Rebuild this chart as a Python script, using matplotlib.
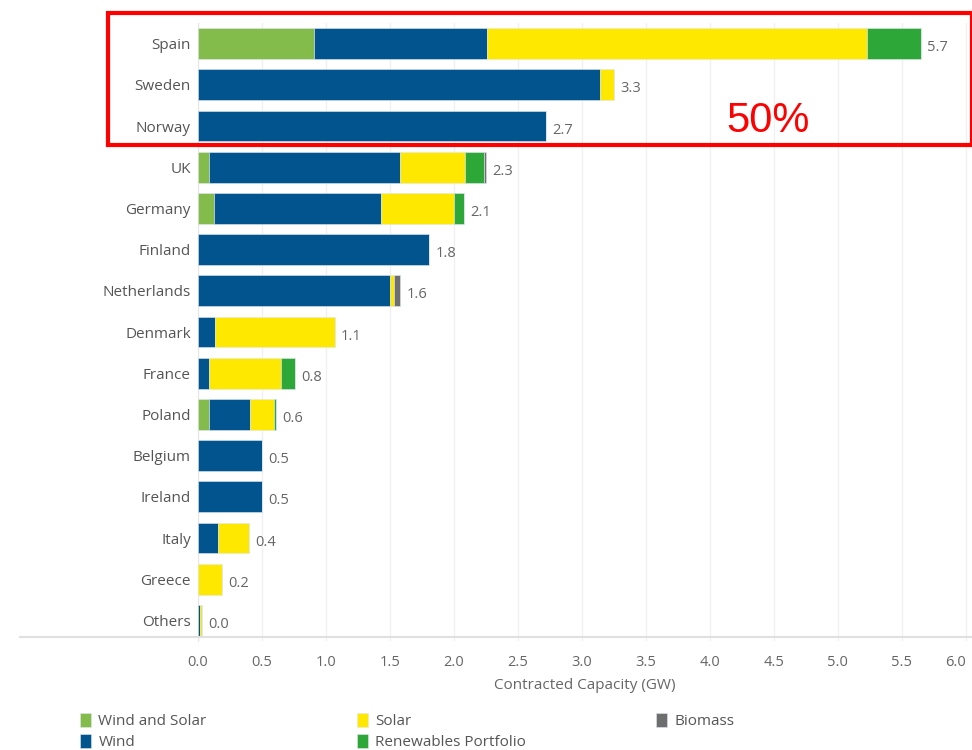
import matplotlib.pyplot as plt
from matplotlib.patches import Rectangle
from matplotlib.lines import Line2D
import numpy as np

countries = ["Spain", "Sweden", "Norway", "UK", "Germany", "Finland", "Netherlands",
             "Denmark", "France", "Poland", "Belgium", "Ireland", "Italy", "Greece", "Others"]
wind_solar = [0.91, 0, 0, 0.09, 0.13, 0, 0, 0, 0, 0.09, 0, 0, 0, 0, 0]
wind = [1.35, 3.14, 2.72, 1.49, 1.30, 1.81, 1.50, 0.135, 0.086, 0.32, 0.505, 0.50, 0.16, 0, 0.015]
solar = [2.97, 0.11, 0, 0.51, 0.57, 0, 0.03, 0.935, 0.564, 0.19, 0, 0, 0.24, 0.19, 0.015]
renew_portfolio = [0.42, 0, 0, 0.15, 0.08, 0, 0, 0, 0.11, 0.01, 0, 0, 0, 0, 0]
biomass = [0, 0, 0, 0.01, 0, 0, 0.05, 0, 0, 0, 0, 0, 0, 0, 0]
total_labels = ["5.7", "3.3", "2.7", "2.3", "2.1", "1.8", "1.6", "1.1", "0.8", "0.6",
                "0.5", "0.5", "0.4", "0.2", "0.0"]

series = [
    ("Wind and Solar", wind_solar, "#84bc4b"),
    ("Wind", wind, "#02548f"),
    ("Solar", solar, "#ffe800"),
    ("Renewables Portfolio", renew_portfolio, "#2da838"),
    ("Biomass", biomass, "#6e6e6e"),
]

plt.rcParams['font.family'] = ['Open Sans', 'DejaVu Sans']

fig = plt.figure(figsize=(9.72, 7.5), dpi=100)
ax = fig.add_axes([197.7 / 972, 1 - 641 / 750, 1 - 197.7 / 972, (641 - 23) / 750])

y = np.arange(len(countries))
left = np.zeros(len(countries))
for name, vals, col in series:
    vals = np.array(vals)
    ax.barh(y, vals, left=left, height=0.75, color=col, label=name,
            edgecolor="#dfe8f0", linewidth=0.4, zorder=3)
    left += vals

for yi, tot, lab in zip(y, left, total_labels):
    ax.text(tot + 0.05, yi + 0.1, lab, va="center", ha="left", fontsize=10.5, color="#666666")

ax.set_xlim(0, 6.05)
ax.set_ylim(len(countries) - 0.5, -0.5)
ax.set_yticks(y)
ax.set_yticklabels(countries, fontsize=11, color="#555555")
ticks = np.arange(0, 6.01, 0.5)
ax.set_xticks(ticks)
ax.set_xticklabels([f"{v:.1f}" for v in ticks], fontsize=10.5, color="#666666")
ax.get_xticklabels()[-1].set_horizontalalignment("right")
ax.tick_params(axis="y", length=0, pad=5)
ax.tick_params(axis="x", length=0, pad=10)
ax.grid(axis="x", color="#f0f0f0", linewidth=1, zorder=0)
for s in ["top", "right", "bottom"]:
    ax.spines[s].set_visible(False)
ax.spines["left"].set_color("#e6e6e6")
ax.set_xlabel("Contracted Capacity (GW)", fontsize=11, color="#666666", labelpad=6)

# baseline rule across the figure
fig.add_artist(Line2D([20 / 972, 1], [1 - 637 / 750, 1 - 637 / 750], color="#e0e0e0", linewidth=1.5))

# highlight box
fig.add_artist(Rectangle((108 / 972, 1 - 145 / 750), (972 - 108) / 972, 132 / 750,
                         fill=False, edgecolor="red", linewidth=3, transform=fig.transFigure))
fig.text(768 / 972, 1 - 121 / 750, "50%", color="red", fontsize=30, ha="center", va="center",
         family=["Liberation Sans", "DejaVu Sans"])

# legend: three columns placed like the original
handles, labels = ax.get_legend_handles_labels()
col_x = [80, 357, 656]
groups = [[0, 1], [2, 3], [4]]
for cx, idx in zip(col_x, groups):
    fig.legend([handles[i] for i in idx], [labels[i] for i in idx], loc="upper left",
               bbox_to_anchor=(cx / 972, 1 - 713 / 750), frameon=False,
               fontsize=11, labelcolor="#555555", handlelength=0.7, handleheight=1.0,
               handletextpad=0.5, labelspacing=0.35, borderaxespad=0, borderpad=0)

fig.savefig("out.png", dpi=100)
